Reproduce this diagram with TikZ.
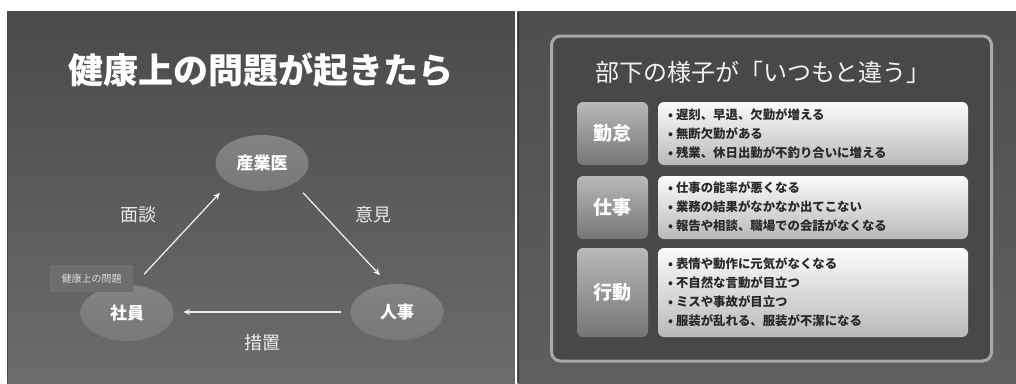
\documentclass[tikz,border=0pt]{standalone}
\usepackage{fontspec}
\setmainfont{Noto Sans CJK JP}
\usetikzlibrary{shapes.geometric,arrows.meta,calc}
\definecolor{bgdark}{HTML}{4E4E4E}
\definecolor{bglight}{HTML}{6C6C6C}
\definecolor{framefill}{HTML}{484848}
\definecolor{frameline}{HTML}{A8A8A8}
\definecolor{ellfill}{HTML}{8E8E8E}
\definecolor{tagfill}{HTML}{6E6E6E}
\definecolor{bullettext}{HTML}{2A2A2A}
\tikzset{
  ellnode/.style={ellipse, inner sep=0pt, minimum width=93pt, minimum height=56pt,
    top color=ellfill!110!white, bottom color=ellfill!85!black, draw=none,
    text=white, font=\bfseries\fontsize{17pt}{17pt}\selectfont},
  arr/.style={draw=white!92!black, line width=1.3pt, -{Stealth[length=7pt,width=6pt]}},
  flowlabel/.style={text=white!92!black, font=\fontsize{18pt}{18pt}\selectfont, inner sep=0pt},
  catbox/.style={rounded corners=6pt, top color=gray!55!white, bottom color=gray!92!black,
    draw=none},
  catlabel/.style={text=white, font=\bfseries\fontsize{19pt}{19pt}\selectfont, inner sep=0pt},
  itembox/.style={rounded corners=6pt, top color=white!97!gray, bottom color=gray!55!white, draw=none},
  itemtext/.style={anchor=west, inner sep=0pt, text=bullettext,
    font=\bfseries\fontsize{12.4pt}{12.4pt}\selectfont}
}
\begin{document}
\begin{tikzpicture}[x=1pt,y=-1pt]
\useasboundingbox (0,0) rectangle (1016,383);
\fill[white] (0,0) rectangle (1016,383);
% panels
\shade[top color=bgdark!95!black, bottom color=bglight] (7,11) rectangle (515,383);
\draw[black!70, line width=1pt] (7.5,383) -- (7.5,11.5) -- (515,11.5);
\fill[white] (515,11) rectangle (517.5,383);
\shade[top color=bgdark, bottom color=bgdark!90!white] (517.5,11) rectangle (1016,383);
\draw[black!80, line width=1pt] (518.5,11) -- (518.5,383);

% ---------- left slide ----------
\node[text=white, font=\bfseries\fontsize{35pt}{35pt}\selectfont, inner sep=0pt] (ltitle) at (261,70) {健康上の問題が起きたら};

\node[ellnode] (sangyoi) at (262,163) {産業医};
\node[ellnode] (syain) at (127,313) {社員};
\node[ellnode] (jinji) at (397,312) {人事};

\node[fill=tagfill, text=white!85!black, inner sep=0pt, minimum width=83pt, minimum height=27pt,
  font=\fontsize{10pt}{10pt}\selectfont] (tag) at (91.5,278.5) {健康上の問題};

\draw[arr] ($(syain.north)+(17,-10.5)$) -- ($(sangyoi.south)+(-42,1.5)$);
\draw[arr] ($(sangyoi.south)+(41,1.5)$) -- ($(jinji.north)+(-17,-8.5)$);
\draw[arr] ($(jinji.west)+(-9,0)$) -- ($(syain.east)+(9.5,-1)$);

\node[flowlabel] (mendan) at (138,215) {面談};
\node[flowlabel] (iken) at (373,215) {意見};
\node[flowlabel] (sochi) at (262,343) {措置};

% ---------- right slide ----------
\draw[rounded corners=9pt, line width=3pt, draw=frameline, fill=framefill] (551.5,36) rectangle (991.5,361);
\node[text=white!95!black, font=\fontsize{24pt}{24pt}\selectfont, inner sep=0pt, anchor=west] (rtitle) at (595,72) {部下の様子が「いつもと違う」};

% row 1
\shade[catbox] (577,102) rectangle (648,165);
\node[catlabel] (cat1) at (612.5,133.5) {勤怠};
\shade[itembox] (658,102) rectangle (968,165);
\node[itemtext] (i11) at (668,115) {• 遅刻、早退、欠勤が増える};
\node[itemtext] (i12) at (668,134) {• 無断欠勤がある};
\node[itemtext] (i13) at (668,153) {• 残業、休日出勤が不釣り合いに増える};

% row 2
\shade[catbox] (577,176) rectangle (648,239);
\node[catlabel] (cat2) at (612.5,207.5) {仕事};
\shade[itembox] (658,176) rectangle (968,239);
\node[itemtext] (i21) at (668,188) {• 仕事の能率が悪くなる};
\node[itemtext] (i22) at (668,207) {• 業務の結果がなかなか出てこない};
\node[itemtext] (i23) at (668,226) {• 報告や相談、職場での会話がなくなる};

% row 3
\shade[catbox] (577,248) rectangle (648,337);
\node[catlabel] (cat3) at (612.5,292.5) {行動};
\shade[itembox] (658,248) rectangle (968,337);
\node[itemtext] (i31) at (668,264) {• 表情や動作に元気がなくなる};
\node[itemtext] (i32) at (668,283) {• 不自然な言動が目立つ};
\node[itemtext] (i33) at (668,302) {• ミスや事故が目立つ};
\node[itemtext] (i34) at (668,321) {• 服装が乱れる、服装が不潔になる};
\end{tikzpicture}
\end{document}
